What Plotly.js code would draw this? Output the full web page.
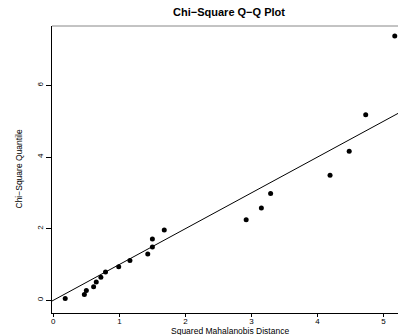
<!DOCTYPE html>
<html>
<head>
<meta charset="utf-8">
<script src="https://cdn.plot.ly/plotly-3.0.1.min.js"></script>
<style>
html,body{margin:0;padding:0;overflow:hidden;background:#fff;}
#plot{width:406px;height:335px;}
</style>
</head>
<body>
<div id="plot"></div>
<script>
// Squared Mahalanobis distances (sorted) and chi-square quantiles
const distances = [0.18, 0.47, 0.50, 0.61, 0.65, 0.72, 0.79, 0.99, 1.16, 1.43, 1.50, 1.50, 1.68, 2.92, 3.15, 3.29, 4.19, 4.48, 4.73, 5.17];
const quantiles = [0.05, 0.16, 0.27, 0.38, 0.51, 0.64, 0.79, 0.94, 1.11, 1.29, 1.49, 1.71, 1.96, 2.25, 2.58, 2.98, 3.49, 4.16, 5.18, 7.38];
const xTicks = [0, 1, 2, 3, 4, 5];
const yTicks = [0, 2, 4, 6];
const refLineX = [-0.02, 5.34];
const refLineY = [-0.02, 5.34];

const fontFam = 'Liberation Sans, Arial, Helvetica, sans-serif';

const traces = [
  {
    x: refLineX, y: refLineY, mode: 'lines', type: 'scatter',
    line: {color: '#000', width: 1}, hoverinfo: 'skip', cliponaxis: true
  },
  {
    x: distances, y: quantiles, mode: 'markers', type: 'scatter',
    marker: {color: '#000', size: 5}
  }
];

const layout = {
  width: 406, height: 335,
  margin: {l: 52, r: 0, t: 26, b: 22},
  paper_bgcolor: '#fff', plot_bgcolor: '#fff',
  showlegend: false,
  font: {family: fontFam, color: '#000', size: 8},
  title: {
    text: '<b>Chi\u2212Square Q\u2212Q Plot</b>',
    font: {family: fontFam, size: 11, color: '#000'},
    x: 229/406, xref: 'container', xanchor: 'center',
    y: 1 - 12/335, yref: 'container', yanchor: 'middle'
  },
  xaxis: {
    range: [-0.02, 5.34], tickvals: xTicks, ticktext: xTicks.map(String),
    showgrid: false, zeroline: false, showline: true, linecolor: '#000', linewidth: 1,
    ticks: 'outside', ticklen: 3, tickcolor: '#000', tickwidth: 1, ticklabelstandoff: -3,
    tickfont: {size: 8, color: '#000'}
  },
  yaxis: {
    range: [-0.355, 7.66], tickvals: yTicks, ticktext: yTicks.map(String),
    showgrid: false, zeroline: false, showline: true, linecolor: '#000', linewidth: 1,
    ticks: 'outside', ticklen: 5, tickcolor: '#000', tickwidth: 1, tickangle: -90,
    tickfont: {size: 8, color: '#000'}
  },
  annotations: [
    {text: 'Squared Mahalanobis Distance', xref: 'paper', yref: 'paper',
     x: (230 - 52) / 354, y: -(330.5 - 313) / 287, xanchor: 'center', yanchor: 'middle',
     showarrow: false, font: {size: 8.5, color: '#000'}},
    {text: 'Chi\u2212Square Quantile', xref: 'paper', yref: 'paper',
     x: -(52 - 18) / 354, y: 0.5, xanchor: 'center', yanchor: 'middle', textangle: -90,
     showarrow: false, font: {size: 8.5, color: '#000'}}
  ],
  shapes: [
    {type: 'line', xref: 'paper', yref: 'paper', x0: 0, x1: 1, y0: 1, y1: 1,
     line: {color: '#888', width: 1}}
  ]
};

Plotly.newPlot('plot', traces, layout, {staticPlot: true, displayModeBar: false});
</script>
</body>
</html>
